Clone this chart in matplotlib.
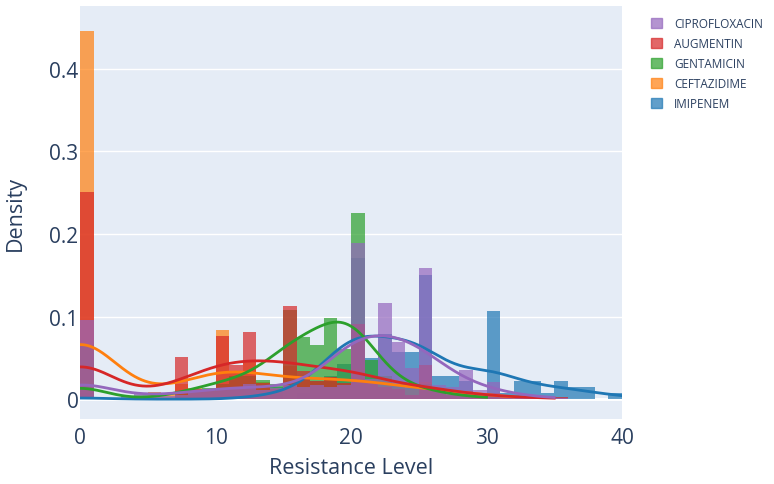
import numpy as np
import matplotlib
matplotlib.use("Agg")
import matplotlib.pyplot as plt
from matplotlib.patches import Patch

plt.rcParams['font.family'] = ['Open Sans', 'DejaVu Sans']

# resistance level (integer) -> number of isolates, per antibiotic
imipenem_levels = [0, 14, 16, 17, 18, 19, 20, 21, 22, 23, 24, 25, 26, 27, 28, 29, 30, 31, 32, 33, 34, 35, 36, 37, 39, 40]
imipenem_counts = [1, 2, 1, 3, 4, 6, 24, 7, 11, 8, 8, 21, 4, 4, 3, 1, 15, 1, 3, 3, 1, 3, 2, 2, 1, 1]

ceftazidime_levels = [0, 5, 6, 7, 8, 9, 10, 11, 12, 13, 14, 15, 16, 17, 18, 19, 20, 21, 22, 23, 24, 25, 26, 27, 28, 29, 30, 31, 32]
ceftazidime_counts = [197, 4, 3, 8, 6, 5, 37, 14, 21, 9, 6, 18, 10, 9, 12, 8, 16, 9, 10, 6, 5, 9, 4, 5, 3, 3, 3, 1, 1]

gentamicin_levels = [0, 7, 8, 9, 10, 11, 12, 13, 14, 15, 16, 17, 18, 19, 20, 21, 22, 23, 24, 25, 26, 27, 28, 30]
gentamicin_counts = [14, 2, 2, 3, 4, 6, 6, 5, 4, 23, 16, 14, 21, 13, 48, 10, 6, 4, 3, 4, 2, 1, 1, 1]

augmentin_levels = [0, 7, 8, 9, 10, 11, 12, 13, 14, 15, 16, 17, 18, 19, 20, 21, 22, 23, 24, 25, 26, 27, 28, 29, 30, 31, 32, 33, 35]
augmentin_counts = [102, 21, 5, 4, 31, 17, 33, 8, 5, 46, 14, 9, 11, 8, 37, 8, 6, 5, 2, 17, 4, 2, 4, 1, 3, 1, 1, 1, 1]

cipro_levels = [0, 3, 4, 5, 6, 7, 8, 9, 10, 11, 12, 13, 14, 15, 16, 17, 18, 19, 20, 21, 22, 23, 24, 25, 26, 27, 28, 29, 30, 31, 32, 33, 34, 35]
cipro_counts = [51, 2, 4, 2, 2, 3, 5, 5, 7, 8, 10, 6, 7, 9, 8, 9, 8, 9, 101, 13, 62, 37, 20, 85, 9, 8, 19, 6, 11, 3, 2, 2, 1, 1]

# drawing order (first = bottom), same as the plotly traces
names = ['IMIPENEM', 'CEFTAZIDIME', 'GENTAMICIN', 'AUGMENTIN', 'CIPROFLOXACIN']
levels = [imipenem_levels, ceftazidime_levels, gentamicin_levels, augmentin_levels, cipro_levels]
counts = [imipenem_counts, ceftazidime_counts, gentamicin_counts, augmentin_counts, cipro_counts]
colors = ['#1f77b4', '#ff7f0e', '#2ca02c', '#d62728', '#9467bd']


def kde(samples, grid):
    # gaussian kde, scott's rule (same as scipy default)
    n = len(samples)
    bw = np.std(samples, ddof=1) * n ** (-1 / 5)
    z = (grid[:, None] - samples[None, :]) / bw
    return np.exp(-0.5 * z ** 2).sum(axis=1) / (n * bw * np.sqrt(2 * np.pi))


fig = plt.figure(figsize=(7.74, 4.85), dpi=100)
ax = fig.add_axes([80 / 774, 1 - 420 / 485, 542 / 774, 413 / 485])
ax.set_facecolor('#E5ECF6')

bins = np.arange(0, 42, 1)
samples_all = []
for lv, ct, c in zip(levels, counts, colors):
    s = np.repeat(np.array(lv, dtype=float), ct)
    samples_all.append(s)
    ax.hist(s, bins=bins, density=True, color=c, alpha=0.7, zorder=2)

for s, c in zip(samples_all, colors):
    gx = np.linspace(s.min(), s.max(), 500)
    ax.plot(gx, kde(s, gx), color=c, lw=2, zorder=3)

ax.set_xlim(0, 40)
ax.set_ylim(-0.024, 0.476)
ax.set_xticks([0, 10, 20, 30, 40])
ax.set_yticks([0, 0.1, 0.2, 0.3, 0.4])
ax.set_yticklabels(['0', '0.1', '0.2', '0.3', '0.4'])
ax.grid(True, axis='y', color='white', lw=1, zorder=1)
ax.axhline(0, color='white', lw=2, zorder=1)
ax.set_axisbelow(True)
for sp in ax.spines.values():
    sp.set_visible(False)
ax.tick_params(length=0, labelsize=15, labelcolor='#2a3f5f', pad=1)
ax.tick_params(axis='x', pad=6)
ax.set_xlabel('Resistance Level', fontsize=15.5, color='#2a3f5f', labelpad=6)
ax.set_ylabel('Density', fontsize=15.5, color='#2a3f5f', labelpad=17)

# legend (plotly shows traces reversed)
handles = [Patch(color=c, alpha=0.7) for c in colors][::-1]
fig.legend(handles, names[::-1], loc='upper left', bbox_to_anchor=(0.828, 0.985),
           frameon=False, fontsize=8.5, labelcolor='#2a3f5f', handlelength=0.9,
           handleheight=0.9, handletextpad=1.0, labelspacing=0.6)

fig.savefig('out.png', dpi=100)
